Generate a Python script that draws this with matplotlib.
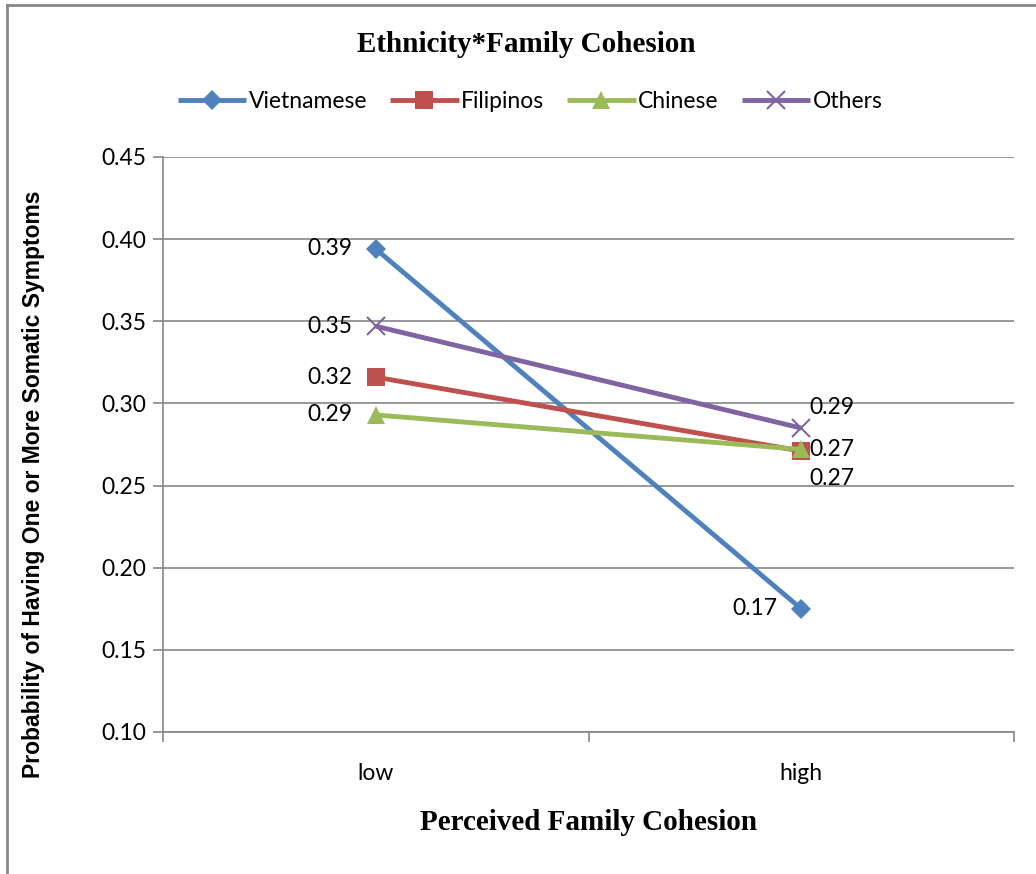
import matplotlib
matplotlib.use("Agg")
import matplotlib.pyplot as plt
from matplotlib.lines import Line2D

levels = ["low", "high"]
series = ["Vietnamese", "Filipinos", "Chinese", "Others"]
vietnamese = [0.394, 0.175]
filipinos = [0.316, 0.271]
chinese = [0.293, 0.272]
others = [0.347, 0.285]
labels_low = ["0.39", "0.32", "0.29", "0.35"]
labels_high = ["0.17", "0.27", "0.27", "0.29"]
yticks = [0.10, 0.15, 0.20, 0.25, 0.30, 0.35, 0.40, 0.45]

colors = ["#4F81BD", "#C0504D", "#9BBB59", "#8064A2"]
markers = ["D", "s", "^", "x"]
msizes = [10, 13, 13, 13]

W, H = 1036, 874
fig = plt.figure(figsize=(W / 100, H / 100), dpi=100)
ax = fig.add_axes([163 / W, 1 - 732 / H, (1014 - 163) / W, (732 - 157) / H])

sans = ["Lato", "DejaVu Sans"]
serif = ["Liberation Serif", "DejaVu Serif"]
fs = 16.5

x = list(range(len(levels)))
values = [vietnamese, filipinos, chinese, others]
for name, vals, c, m, ms in zip(series, values, colors, markers, msizes):
    mew = 1.5 if m == "x" else 0
    ax.plot(x, vals, color=c, lw=3.5, marker=m, ms=ms, mew=mew,
            mec=c, label=name, solid_capstyle="butt", zorder=3)

# data labels, placed like the original
low_off = [(-17, 0), (-17, 0), (-17, 0), (-17, 0)]
high_off = [(-17, 0), (6, -20), (6, 0), (6, 15)]
for i, vals in enumerate(values):
    dx, dy = low_off[i]
    ax.annotate(labels_low[i], (0, vals[0]), xytext=(dx, dy),
                textcoords="offset points", ha="right", va="center",
                fontsize=fs, family=sans, zorder=4)
    dx, dy = high_off[i]
    ax.annotate(labels_high[i], (1, vals[1]), xytext=(dx, dy),
                textcoords="offset points",
                ha="right" if dx < 0 else "left", va="center",
                fontsize=fs, family=sans, zorder=4)

ax.set_xlim(-0.5, 1.5)
ax.set_ylim(0.10, 0.45)
ax.set_yticks(yticks)
ax.set_yticklabels([f"{v:.2f}" for v in yticks], fontsize=fs, family=sans)
ax.yaxis.grid(True, color="#868686", lw=1.2)
ax.set_axisbelow(True)

ax.set_xticks(x)
ax.set_xticklabels(levels, fontsize=fs, family=sans)
ax.set_xticks([-0.5, 0.5, 1.5], minor=True)
ax.tick_params(axis="x", which="major", length=0, pad=22)
ax.tick_params(axis="x", which="minor", length=7, color="#868686", width=1.2)
ax.tick_params(axis="y", length=7, color="#868686", width=1.2, pad=5)

for s in ["top", "right"]:
    ax.spines[s].set_visible(False)
for s in ["left", "bottom"]:
    ax.spines[s].set_color("#868686")
    ax.spines[s].set_linewidth(1.2)

ax.set_ylabel("Probability of Having One or More Somatic Symptoms",
              fontsize=16.5, fontweight="bold",
              family=["Liberation Sans", "DejaVu Sans"])
ax.yaxis.set_label_coords(-0.139, 0.43)
ax.set_xlabel("Perceived Family Cohesion", fontsize=21, fontweight="bold",
              family=serif, labelpad=18)

fig.text(526 / W, 1 - 44 / H, "Ethnicity*Family Cohesion", ha="center",
         va="center", fontsize=21, fontweight="bold", family=serif)

fig.legend(loc="center", bbox_to_anchor=(530 / W, 1 - 102 / H), ncol=4,
           frameon=False, prop={"family": sans, "size": fs},
           handlelength=3.0, handletextpad=0.1, columnspacing=1.0)

# outer chart border (left and top only visible)
fig.add_artist(Line2D([7 / W, 7 / W], [0, 1 - 5 / H], transform=fig.transFigure,
                      color="#878787", lw=2))
fig.add_artist(Line2D([7 / W, 1], [1 - 5 / H, 1 - 5 / H], transform=fig.transFigure,
                      color="#878787", lw=2))

fig.savefig("out.png", dpi=100)
